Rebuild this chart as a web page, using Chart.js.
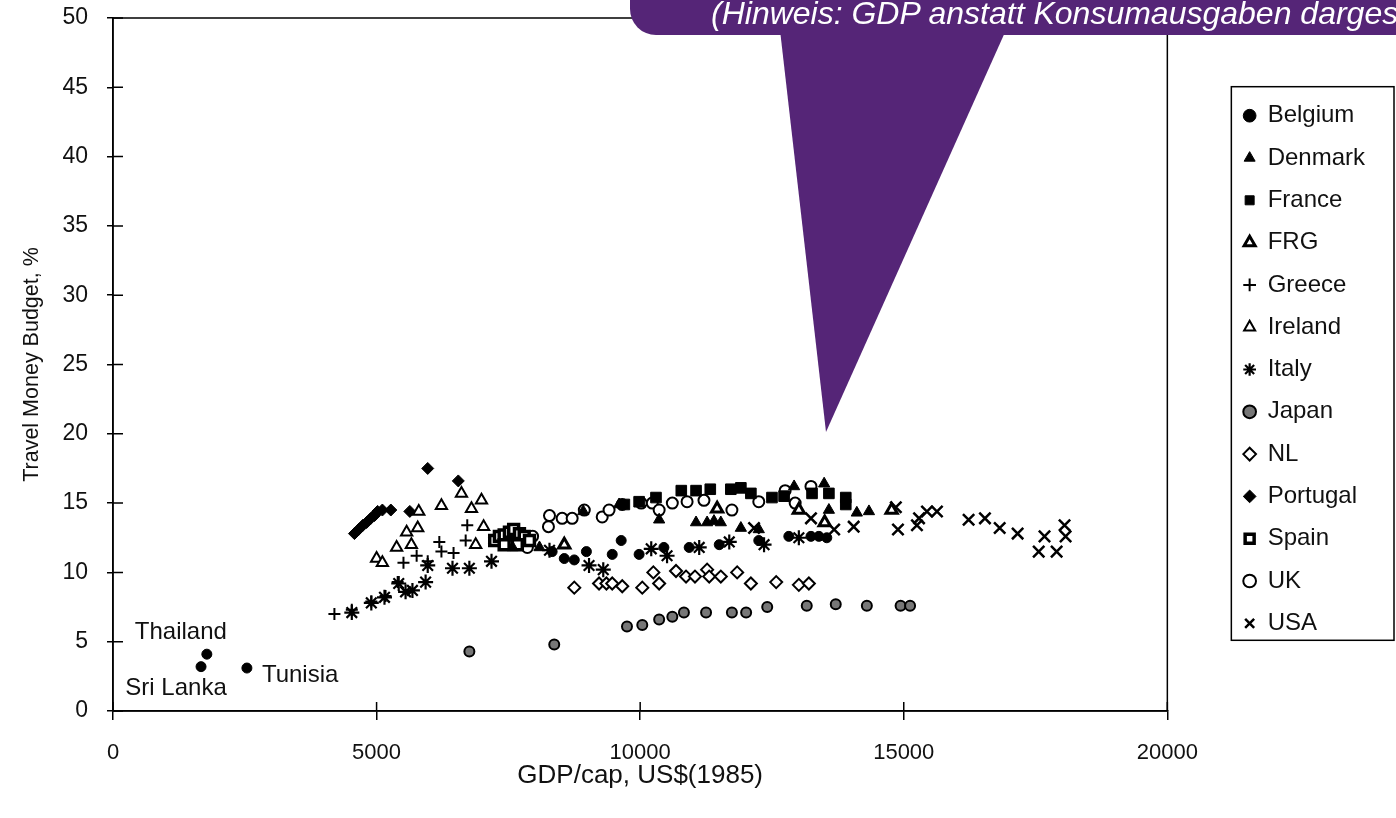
<!DOCTYPE html>
<html>
<head>
<meta charset="utf-8">
<script src="https://cdn.jsdelivr.net/npm/chart.js@4.4.1/dist/chart.umd.min.js"></script>
<style>
  html, body { margin: 0; padding: 0; background: #fff; overflow: hidden; }
  #wrap { position: relative; width: 1396px; height: 818px; }
  #pointer {
    position: absolute; left: 0; top: 0; width: 1396px; height: 818px;
    background: #552577; pointer-events: none;
    clip-path: polygon(780px 30px, 1006px 30px, 826px 432px);
  }
  #callout {
    position: absolute; left: 630px; top: -40px; width: 820px; height: 75px;
    background: #552577; border-radius: 26px; overflow: hidden; pointer-events: none;
  }
  #callout span {
    position: absolute; left: 81px; top: 37px; white-space: nowrap;
    color: #fff; font: italic 32px "Liberation Sans", Arial, sans-serif; line-height: 32px;
  }
</style>
</head>
<body>
<div id="wrap">
  <canvas id="grafico" width="1396" height="818"></canvas>
  <div id="pointer"></div>
  <div id="callout"><span>(Hinweis: GDP anstatt Konsumausgaben dargestellt)</span></div>
</div>
<script>
// GDP/cap (US$ 1985) vs travel money budget (%)
const countries = ['Belgium', 'Denmark', 'France', 'FRG', 'Greece', 'Ireland', 'Italy',
  'Japan', 'NL', 'Portugal', 'Spain', 'UK', 'USA'];

const belgium = [[8330, 11.5], [8560, 11.0], [8750, 10.9], [8980, 11.5], [9470, 11.3], [9640, 12.3],
  [9980, 11.3], [10450, 11.8], [10930, 11.8], [11500, 12.0], [12250, 12.3], [12820, 12.6],
  [13240, 12.6], [13390, 12.6], [13540, 12.5]];
const denmark = [[7580, 11.8], [8090, 11.8], [8920, 14.4], [9600, 14.9], [10360, 13.8], [11060, 13.6],
  [11270, 13.6], [11400, 13.7], [11530, 13.6], [11910, 13.2], [12250, 13.1], [12920, 16.2],
  [13490, 16.4], [13580, 14.5], [14110, 14.3], [14340, 14.4]];
const france = [[9700, 14.9], [9980, 15.1], [10300, 15.4], [10780, 15.9], [11060, 15.9], [11330, 16.0],
  [11720, 16.0], [11910, 16.1], [12100, 15.7], [12500, 15.4], [12730, 15.5], [13260, 15.7],
  [13580, 15.7], [13900, 15.4], [13900, 14.9]];
const frg = [[8560, 12.0], [11460, 14.6], [13010, 14.5], [13500, 13.6], [14770, 14.5]];
const greece = [[4200, 7.0], [4530, 7.3], [4900, 7.9], [5170, 8.3], [5400, 9.3], [5510, 10.7],
  [5760, 11.2], [5970, 10.8], [6190, 12.2], [6230, 11.5], [6460, 11.4], [6690, 12.3], [6720, 13.4]];
const ireland = [[5000, 11.0], [5110, 10.7], [5380, 11.8], [5570, 12.9], [5660, 12.0], [5780, 13.2],
  [5800, 14.4], [6230, 14.8], [6610, 15.7], [6800, 14.6], [6990, 15.2], [7030, 13.3], [6880, 12.0]];
const italy = [[4530, 7.1], [4900, 7.8], [5150, 8.2], [5420, 9.2], [5550, 8.6], [5680, 8.7],
  [5930, 9.3], [5970, 10.5], [6440, 10.3], [6760, 10.3], [7180, 10.8], [8280, 11.6], [9030, 10.5],
  [9300, 10.2], [10210, 11.7], [10510, 11.2], [11120, 11.8], [11690, 12.2], [12350, 12.0], [13010, 12.5]];
const japan = [[6760, 4.3], [8370, 4.8], [9750, 6.1], [10040, 6.2], [10360, 6.6], [10610, 6.8],
  [10830, 7.1], [11250, 7.1], [11740, 7.1], [12010, 7.1], [12410, 7.5], [13160, 7.6], [13710, 7.7],
  [14300, 7.6], [14940, 7.6], [15120, 7.6]];
const nl = [[8750, 8.9], [9220, 9.2], [9360, 9.2], [9470, 9.2], [9660, 9.0], [10040, 8.9], [10250, 10.0],
  [10360, 9.2], [10680, 10.1], [10870, 9.7], [11040, 9.7], [11270, 10.2], [11310, 9.7], [11530, 9.7],
  [11840, 10.0], [12100, 9.2], [12580, 9.3], [13010, 9.1], [13200, 9.2]];
const portugal = [[4580, 12.8], [4660, 13.1], [4740, 13.4], [4810, 13.6], [4890, 13.9], [4960, 14.1],
  [5020, 14.4], [5110, 14.5], [5270, 14.5], [5630, 14.4], [5970, 17.5], [6550, 16.6]];
const spain = [[7240, 12.3], [7330, 12.6], [7420, 12.7], [7520, 12.9], [7600, 13.1], [7710, 12.8],
  [7800, 12.6], [7900, 12.3], [7670, 12.0], [7420, 12.0]];
const uk = [[7650, 12.5], [7860, 11.8], [7960, 12.6], [8260, 13.3], [8280, 14.1], [8520, 13.9],
  [8710, 13.9], [8940, 14.5], [9280, 14.0], [9410, 14.5], [9660, 14.9], [10020, 15.0], [10230, 15.0],
  [10360, 14.5], [10610, 15.0], [10890, 15.1], [11210, 15.2], [11740, 14.5], [12250, 15.1],
  [12750, 15.9], [12940, 15.0], [13240, 16.2]];
const usa = [[12160, 13.2], [13240, 13.9], [13680, 13.1], [14050, 13.3], [14850, 14.7], [14890, 13.1],
  [15250, 13.4], [15290, 13.9], [15440, 14.4], [15630, 14.4], [16230, 13.8], [16540, 13.9],
  [16820, 13.2], [17160, 12.8], [17670, 12.6], [18050, 13.4], [18070, 12.6], [17560, 11.5], [17900, 11.5]];

// developing countries, labelled in the plot
const others = [[1780, 4.1], [1670, 3.2], [2540, 3.1]];
const otherNames = ['Thailand', 'Sri Lanka', 'Tunisia'];

const xTicks = [0, 5000, 10000, 15000, 20000];
const yTicks = [0, 5, 10, 15, 20, 25, 30, 35, 40, 45, 50];

const series = [belgium, denmark, france, frg, greece, ireland, italy, japan, nl, portugal, spain, uk, usa];

// marker styles, same order as countries
const estilos = [
  { pointStyle: 'circle', radius: 5, fill: '#000', width: 1 },
  { pointStyle: 'triangle', radius: 6.5, fill: '#000', width: 1 },
  { pointStyle: 'rect', radius: 7.5, fill: '#000', width: 1 },
  { pointStyle: 'triangle', radius: 6.5, fill: '#fff', width: 3 },
  { pointStyle: 'cross', radius: 6, fill: '#000', width: 2 },
  { pointStyle: 'triangle', radius: 6.5, fill: '#fff', width: 2 },
  { pointStyle: 'star', radius: 7.5, fill: '#000', width: 2.2 },
  { pointStyle: 'circle', radius: 5, fill: '#777', width: 2 },
  { pointStyle: 'rectRot', radius: 6, fill: '#fff', width: 2 },
  { pointStyle: 'rectRot', radius: 6, fill: '#000', width: 1 },
  { pointStyle: 'rect', radius: 7, fill: '#fff', width: 3.5 },
  { pointStyle: 'circle', radius: 5.5, fill: '#fff', width: 2 },
  { pointStyle: 'crossRot', radius: 8, fill: '#000', width: 2.5 }
];
// label offsets (px) for the annotated points
const nameOffsets = [[-26, -22, 'center'], [-25, 22, 'center'], [15, 7, 'left']];

const fonte = '"Liberation Sans", Arial, sans-serif';
const toXY = arr => arr.map(p => ({ x: p[0], y: p[1] }));

const datasets = countries.map((nome, i) => ({
  label: nome,
  data: toXY(series[i]),
  pointStyle: estilos[i].pointStyle,
  pointRadius: estilos[i].radius,
  pointHoverRadius: estilos[i].radius,
  backgroundColor: estilos[i].fill,
  borderColor: '#000',
  borderWidth: estilos[i].width
}));
datasets.push({
  label: '_others',
  data: toXY(others),
  pointStyle: 'circle',
  pointRadius: 5,
  backgroundColor: '#000',
  borderColor: '#000',
  borderWidth: 1
});

// frame, inner tick marks, point names, legend box
const molduraPlugin = {
  id: 'moldura',
  afterDraw(chart) {
    const { ctx, chartArea: a, scales: { x, y } } = chart;
    ctx.save();
    ctx.strokeStyle = '#000';
    ctx.lineWidth = 1.5;
    ctx.strokeRect(a.left, a.top, a.right - a.left, a.bottom - a.top);
    ctx.beginPath();
    yTicks.forEach(v => { const py = y.getPixelForValue(v); ctx.moveTo(a.left, py); ctx.lineTo(a.left + 10, py); });
    xTicks.forEach(v => { const px = x.getPixelForValue(v); ctx.moveTo(px, a.bottom); ctx.lineTo(px, a.bottom - 9); });
    ctx.stroke();

    ctx.fillStyle = '#111';
    ctx.font = '24px ' + fonte;
    ctx.textBaseline = 'middle';
    others.forEach((p, i) => {
      const [dx, dy, al] = nameOffsets[i];
      ctx.textAlign = al;
      ctx.fillText(otherNames[i], x.getPixelForValue(p[0]) + dx, y.getPixelForValue(p[1]) + dy);
    });

    const lg = chart.legend;
    const hb = lg.legendHitBoxes;
    if (hb && hb.length) {
      const top = hb[0].top - 17;
      const bottom = hb[hb.length - 1].top + hb[hb.length - 1].height + 5;
      ctx.lineWidth = 1.5;
      ctx.strokeRect(lg.left + 6, top, 1394 - lg.left - 6, bottom - top);
    }
    ctx.restore();
  }
};

new Chart(document.getElementById('grafico'), {
  type: 'scatter',
  data: { datasets },
  options: {
    responsive: false,
    animation: false,
    layout: { padding: { top: 18, right: 21, bottom: 0, left: 0 } },
    plugins: {
      tooltip: { enabled: false },
      legend: {
        position: 'right',
        fullSize: false,
        align: 'center',
        // empty title only nudges the centred column down a little
        title: { display: true, text: ' ', font: { size: 5 }, padding: { top: 2, bottom: 2 } },
        labels: {
          usePointStyle: true,
          boxWidth: 12,
          boxHeight: 9,
          padding: 18.3,
          color: '#111',
          font: { family: fonte, size: 24 },
          filter: item => !item.text.startsWith('_')
        }
      }
    },
    scales: {
      x: {
        type: 'linear',
        min: 0, max: 20000,
        afterBuildTicks: s => { s.ticks = xTicks.map(v => ({ value: v })); },
        afterFit: s => { s.height = 107; },
        ticks: { color: '#111', padding: 20, font: { family: fonte, size: 22 }, maxRotation: 0,
          callback: v => String(v) },
        grid: { drawOnChartArea: false, drawTicks: true, tickLength: 9, color: '#000', lineWidth: 1.5 },
        border: { display: true, color: '#000', width: 1.5 },
        title: { display: true, text: 'GDP/cap, US$(1985)', color: '#111',
          font: { family: fonte, size: 26 }, padding: { top: 0, bottom: 27 } }
      },
      y: {
        type: 'linear',
        min: 0, max: 50,
        afterBuildTicks: s => { s.ticks = yTicks.map(v => ({ value: v })); },
        afterFit: s => { s.width = 113; s.paddingTop = 0; s.paddingBottom = 0; },
        ticks: { color: '#111', padding: 19, font: { family: fonte, size: 23 }, callback: v => String(v) },
        grid: { drawOnChartArea: false, drawTicks: true, tickLength: 6, color: '#000', lineWidth: 1.5 },
        border: { display: true, color: '#000', width: 1.5 },
        title: { display: true, text: 'Travel Money Budget, %', color: '#111',
          font: { family: fonte, size: 21.5 }, padding: { top: 19, bottom: 0 } }
      },
      yR: {
        type: 'linear',
        position: 'right',
        display: true,
        afterFit: s => { s.width = 58; s.paddingTop = 0; s.paddingBottom = 0; },
        ticks: { display: false },
        grid: { display: false },
        border: { display: false }
      }
    }
  },
  plugins: [molduraPlugin]
});
</script>
</body>
</html>
